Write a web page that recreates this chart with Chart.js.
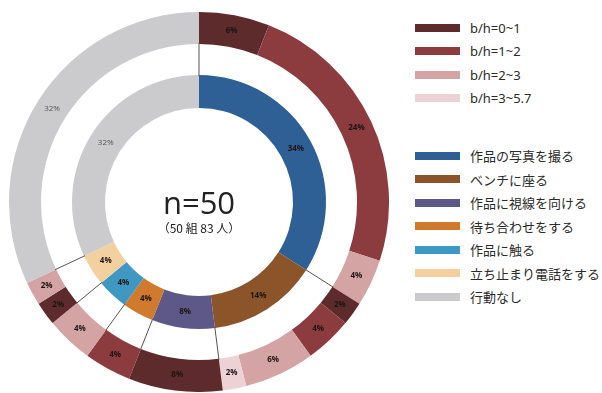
<!DOCTYPE html>
<html>
<head>
<meta charset="utf-8">
<script src="https://cdn.jsdelivr.net/npm/chart.js@4/dist/chart.umd.min.js"></script>
<style>
  body { margin: 0; background: #fff; font-family: 'Noto Sans', 'Noto Sans CJK JP', sans-serif; }
  #wrap { position: absolute; left: 9px; top: 12px; width: 380px; height: 380px; }
  .legend { position: absolute; left: 415px; margin: 0; padding: 0; list-style: none; }
  .legend li { height: 23.5px; display: flex; align-items: center; font-size: 13px; color: #2a2a2a; white-space: nowrap; }
  .legend .sw { width: 45px; height: 8px; margin-right: 10px; flex: none; }
  #center { position: absolute; left: 139px; width: 120px; top: 184px; text-align: center; color: #222; }
  #center .n { font-size: 31px; line-height: 36px; font-family: 'Open Sans', 'Noto Sans', sans-serif; }
  #center .sub { font-size: 12px; line-height: 16px; font-family: 'Noto Sans CJK JP', sans-serif; }
</style>
</head>
<body>
<div id="wrap"><canvas id="donut"></canvas></div>
<ul class="legend" id="legendBh" style="top:16px"></ul>
<ul class="legend" id="legendAct" style="top:144px"></ul>
<div id="center"><div class="n">n=50</div><div class="sub">（50 組 83 人）</div></div>
<script>
const bhLabels = ['b/h=0~1', 'b/h=1~2', 'b/h=2~3', 'b/h=3~5.7'];
const bhColors = ['#5e2b2d', '#8c3c3e', '#d4a3a4', '#ecd2d5'];

const actionLabels = ['作品の写真を撮る', 'ベンチに座る', '作品に視線を向ける', '待ち合わせをする', '作品に触る', '立ち止まり電話をする', '行動なし'];
const actionValues = [34, 14, 8, 4, 4, 4, 32];
const actionColors = ['#2e6095', '#8c5529', '#5d5888', '#cf7a2c', '#3f98c2', '#f3d0a0', '#cbcbcd'];

// outer ring: b/h breakdown per action, clockwise from top
const outerValues = [6, 24, 4, 2, 4, 6, 2, 8, 4, 4, 2, 2, 32];
const outerClass  = [0, 1, 2, 0, 1, 2, 3, 0, 1, 2, 0, 2, -1];

const outerColors = outerClass.map(c => c < 0 ? actionColors[6] : bhColors[c]);

function buildLegend(id, labels, colors) {
  const ul = document.getElementById(id);
  labels.forEach((l, i) => {
    const li = document.createElement('li');
    li.innerHTML = '<span class="sw" style="background:' + colors[i] + '"></span>' + l;
    ul.appendChild(li);
  });
}
buildLegend('legendBh', bhLabels, bhColors);
buildLegend('legendAct', actionLabels, actionColors);

const gapLines = {
  id: 'gapLines',
  afterDatasetsDraw(chart) {
    const ctx = chart.ctx;
    const meta = chart.getDatasetMeta(1);
    ctx.save();
    ctx.strokeStyle = '#555';
    ctx.lineWidth = 1;
    meta.data.forEach(arc => {
      const a = arc.startAngle;
      const r0 = arc.innerRadius - 1, r1 = arc.outerRadius + 1;
      ctx.beginPath();
      ctx.moveTo(arc.x + Math.cos(a) * r0, arc.y + Math.sin(a) * r0);
      ctx.lineTo(arc.x + Math.cos(a) * r1, arc.y + Math.sin(a) * r1);
      ctx.stroke();
    });
    ctx.restore();
  }
};

const pctLabels = {
  id: 'pctLabels',
  afterDatasetsDraw(chart) {
    const ctx = chart.ctx;
    ctx.save();
    ctx.textAlign = 'center';
    ctx.textBaseline = 'middle';
    [0, 2].forEach(di => {
      const ds = chart.data.datasets[di];
      chart.getDatasetMeta(di).data.forEach((arc, i) => {
        const p = arc.tooltipPosition();
        const grey = ds.backgroundColor[i] === actionColors[6];
        ctx.font = (grey ? '' : 'bold ') + '8px "Open Sans", "Noto Sans", sans-serif';
        ctx.fillStyle = grey ? '#555' : '#1c1414';
        ctx.fillText(ds.data[i] + '%', p.x, p.y);
      });
    });
    ctx.restore();
  }
};

new Chart(document.getElementById('donut'), {
  type: 'doughnut',
  data: {
    datasets: [
      { data: outerValues, backgroundColor: outerColors, borderWidth: 0, weight: 32 },
      { data: actionValues, backgroundColor: 'rgba(0,0,0,0)', borderWidth: 0, weight: 31 },
      { data: actionValues, backgroundColor: actionColors, borderWidth: 0, weight: 33 }
    ]
  },
  options: {
    responsive: true,
    maintainAspectRatio: false,
    animation: false,
    cutout: 94,
    layout: { padding: 0 },
    plugins: { legend: { display: false }, tooltip: { enabled: false } }
  },
  plugins: [gapLines, pctLabels]
});
</script>
</body>
</html>
